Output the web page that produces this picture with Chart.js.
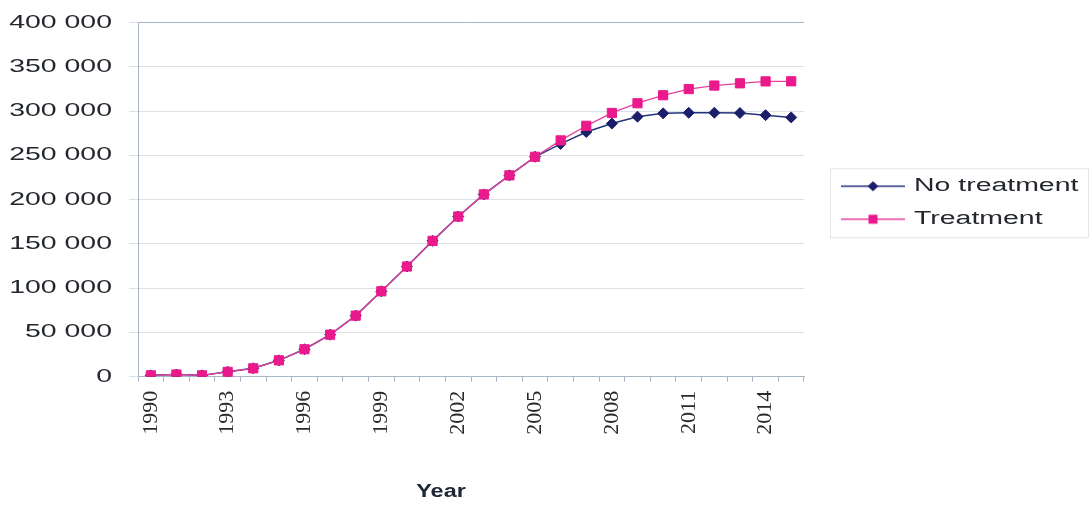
<!DOCTYPE html>
<html>
<head>
<meta charset="utf-8">
<script src="https://cdn.jsdelivr.net/npm/chart.js@4.4.1/dist/chart.umd.min.js"></script>
<style>
  html, body { margin: 0; padding: 0; background: #ffffff; }
  #wrap { width: 1092px; height: 506px; }
</style>
</head>
<body>
<div id="wrap"><canvas id="chart" width="1092" height="506"></canvas></div>
<script>
// Yearly totals, 1990-2015
const years = ['1990', '1991', '1992', '1993', '1994', '1995', '1996', '1997', '1998', '1999',
               '2000', '2001', '2002', '2003', '2004', '2005', '2006', '2007', '2008', '2009',
               '2010', '2011', '2012', '2013', '2014', '2015'];

const noTreatment = [1500, 2500, 1500, 5500, 9500, 18500, 31000, 47500, 69000, 96500,
                     124500, 153500, 181000, 206000, 227500, 248500, 263000, 276500, 286000, 293800,
                     297600, 298200, 298300, 298000, 295500, 293000];

const treatment = [1500, 2500, 1500, 5500, 9500, 18500, 31000, 47500, 69000, 96500,
                   124500, 153500, 181000, 206000, 227500, 248500, 267000, 283500, 298000, 309000,
                   318000, 325000, 329000, 331500, 333700, 333800];

const yTicks = [0, 50000, 100000, 150000, 200000, 250000, 300000, 350000, 400000];

const seriesNames = ['No treatment', 'Treatment'];

const NAVY_LINE = '#26337f';
const NAVY_MARK = '#1b1f6b';
const PINK_LINE = '#e6409c';
const PINK_MARK = '#ea1a8c';
const GRID = '#d9e0e8';
const FRAME = '#a8b6c5';
const TEXT = '#24282e';

// Horizontal sans text is drawn wide; serif (rotated year labels) is left as is.
let textStretch = 1.58;
const wideText = {
  id: 'wideText',
  beforeInit(chart) {
    const ctx = chart.ctx;
    const fill = ctx.fillText.bind(ctx);
    const measure = ctx.measureText.bind(ctx);
    const isSerif = () => /Serif/.test(ctx.font);
    ctx.fillText = (text, x, y, maxWidth) => {
      const m = ctx.getTransform();
      if (isSerif() || Math.abs(m.b) > 1e-6 || Math.abs(m.c) > 1e-6) {
        return maxWidth === undefined ? fill(text, x, y) : fill(text, x, y, maxWidth);
      }
      ctx.save();
      ctx.translate(x, y);
      ctx.scale(textStretch, 1);
      fill(text, 0, 0);
      ctx.restore();
    };
    ctx.measureText = (text) => {
      const r = measure(text);
      if (isSerif()) return r;
      return {
        width: r.width * textStretch,
        actualBoundingBoxAscent: r.actualBoundingBoxAscent,
        actualBoundingBoxDescent: r.actualBoundingBoxDescent,
        actualBoundingBoxLeft: r.actualBoundingBoxLeft,
        actualBoundingBoxRight: r.actualBoundingBoxRight
      };
    };
  },
  afterInit(chart) {
    // fixed legend column on the right
    const legend = chart.legend;
    const fit = legend.fit.bind(legend);
    legend.fit = function () { fit(); this.width = 288; };
  },
  afterLayout(chart) {
    // legend column spans the plot height only
    const legend = chart.legend;
    const area = chart.chartArea;
    legend.top = area.top + 3;
    legend.bottom = area.bottom + 3;
    legend.height = legend.bottom - legend.top;
  }
};

// "Year" caption under the category axis and the thin legend frame
const extras = {
  id: 'extras',
  afterDraw(chart) {
    const { ctx, scales: { x } } = chart;
    ctx.save();
    ctx.font = 'bold 18px "Liberation Sans"';
    ctx.fillStyle = '#1e2733';
    ctx.textAlign = 'center';
    ctx.textBaseline = 'middle';
    const prev = textStretch;
    textStretch = 1.3;
    ctx.fillText('Year', x.left + x.width * 0.455, 492);
    textStretch = prev;

    const boxes = chart.legend.legendHitBoxes;
    if (boxes && boxes.length) {
      const top = boxes[0].top - 9;
      const bottom = boxes[boxes.length - 1].top + boxes[boxes.length - 1].height + 9;
      ctx.strokeStyle = '#e4e7eb';
      ctx.lineWidth = 1;
      ctx.strokeRect(830.5, top + 0.5, 258, bottom - top);
    }
    ctx.restore();
  }
};

function swatch(lineColor, markColor, shape) {
  const c = document.createElement('canvas');
  c.width = 86;
  c.height = 18;
  const g = c.getContext('2d');
  g.strokeStyle = lineColor;
  g.lineWidth = 1.5;
  g.beginPath();
  g.moveTo(22, 9);
  g.lineTo(86, 9);
  g.stroke();
  g.fillStyle = markColor;
  g.beginPath();
  if (shape === 'diamond') {
    g.moveTo(54, 4); g.lineTo(59.5, 9); g.lineTo(54, 14); g.lineTo(48.5, 9);
  } else {
    g.rect(49.5, 4.5, 9, 9);
  }
  g.closePath();
  g.fill();
  return c;
}

const spaced = (v) => String(v).replace(/\B(?=(\d{3})+(?!\d))/g, ' ');

new Chart(document.getElementById('chart'), {
  type: 'line',
  data: {
    labels: years,
    datasets: [
      {
        label: seriesNames[0],
        data: noTreatment,
        borderColor: NAVY_LINE,
        backgroundColor: NAVY_MARK,
        pointBackgroundColor: NAVY_MARK,
        pointBorderColor: NAVY_MARK,
        pointStyle: 'rectRot',
        pointRadius: 5.5,
        pointBorderWidth: 1,
        borderWidth: 1.5,
        tension: 0,
        order: 1
      },
      {
        label: seriesNames[1],
        data: treatment,
        borderColor: PINK_LINE,
        backgroundColor: PINK_MARK,
        pointBackgroundColor: PINK_MARK,
        pointBorderColor: PINK_MARK,
        pointStyle: 'rect',
        pointRadius: 6.5,
        pointBorderWidth: 1,
        borderWidth: 1.3,
        tension: 0,
        order: 0
      }
    ]
  },
  options: {
    responsive: false,
    animation: false,
    layout: { padding: { top: 22.7, left: 0, right: 0, bottom: 0 } },
    plugins: {
      tooltip: { enabled: false },
      title: { display: false },
      legend: {
        position: 'right',
        align: 'center',
        labels: {
          usePointStyle: true,
          pointStyleWidth: 86,
          boxHeight: 18,
          padding: 15,
          color: TEXT,
          font: { family: '"Liberation Sans"', size: 18 },
          generateLabels: () => [
            { text: seriesNames[0], pointStyle: swatch(NAVY_LINE, NAVY_MARK, 'diamond'), fontColor: TEXT,
              fillStyle: NAVY_MARK, strokeStyle: NAVY_MARK, lineWidth: 0, hidden: false, datasetIndex: 0 },
            { text: seriesNames[1], pointStyle: swatch(PINK_LINE, PINK_MARK, 'square'), fontColor: TEXT,
              fillStyle: PINK_MARK, strokeStyle: PINK_MARK, lineWidth: 0, hidden: false, datasetIndex: 1 }
          ]
        }
      }
    },
    scales: {
      x: {
        type: 'category',
        offset: true,
        afterFit(scale) { scale.height = 129.3; },
        grid: {
          offset: true,
          drawOnChartArea: true,
          drawTicks: true,
          tickLength: 5,
          color: (c) => (c.index === years.length ? FRAME : 'rgba(0,0,0,0)'),
          tickColor: FRAME
        },
        border: { display: true, color: FRAME, width: 1 },
        ticks: {
          autoSkip: false,
          maxRotation: 90,
          minRotation: 90,
          padding: 9,
          color: '#2a2a2a',
          font: { family: '"Liberation Serif"', size: 22 },
          callback: (v, i) => (i % 3 === 0 ? years[i] : '')
        }
      },
      y: {
        min: 0,
        max: 400000,
        afterFit(scale) {
          scale.width = 138;
          scale.paddingTop = 0;
          scale.paddingBottom = 0;
        },
        afterBuildTicks(scale) { scale.ticks = yTicks.map((v) => ({ value: v })); },
        grid: {
          color: (c) => (c.tick && c.tick.value === 400000 ? FRAME : GRID),
          tickColor: GRID,
          tickLength: 9,
          lineWidth: 1
        },
        border: { display: true, color: FRAME, width: 1 },
        ticks: {
          padding: 17,
          color: TEXT,
          font: { family: '"Liberation Sans"', size: 18 },
          callback: (v) => spaced(v)
        }
      }
    }
  },
  plugins: [wideText, extras]
});
</script>
</body>
</html>
